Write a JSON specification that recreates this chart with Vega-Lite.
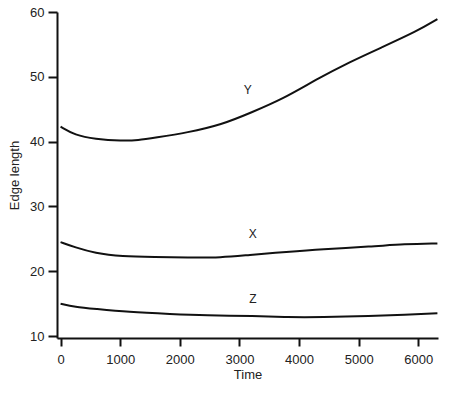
{
  "$schema": "https://vega.github.io/schema/vega-lite/v6.json",
  "width": 381,
  "height": 326,
  "autosize": {"type": "none"},
  "padding": {"left": 57, "top": 12, "right": 19, "bottom": 56},
  "background": "white",
  "config": {
    "view": {"stroke": null},
    "axis": {"grid": false, "domainColor": "#111", "domainWidth": 2, "tickColor": "#111", "tickWidth": 2, "labelFont": "Liberation Sans", "titleFont": "Liberation Sans", "labelFontSize": 13, "titleFontSize": 13, "labelColor": "#222", "titleColor": "#222", "titleFontWeight": "normal"}
  },
  "datasets": {
    "curves": [
      {"series": "Y", "time": 0, "length": 42.3},
      {"series": "Y", "time": 240, "length": 41.0},
      {"series": "Y", "time": 575, "length": 40.4},
      {"series": "Y", "time": 1030, "length": 40.1},
      {"series": "Y", "time": 1300, "length": 40.2},
      {"series": "Y", "time": 1580, "length": 40.6},
      {"series": "Y", "time": 2130, "length": 41.4},
      {"series": "Y", "time": 2700, "length": 42.6},
      {"series": "Y", "time": 3200, "length": 44.5},
      {"series": "Y", "time": 3730, "length": 46.6},
      {"series": "Y", "time": 4290, "length": 49.6},
      {"series": "Y", "time": 4850, "length": 52.3},
      {"series": "Y", "time": 5400, "length": 54.6},
      {"series": "Y", "time": 5970, "length": 57.0},
      {"series": "Y", "time": 6320, "length": 58.9},
      {"series": "X", "time": 0, "length": 24.5},
      {"series": "X", "time": 240, "length": 23.7},
      {"series": "X", "time": 575, "length": 22.8},
      {"series": "X", "time": 1030, "length": 22.3},
      {"series": "X", "time": 1580, "length": 22.2},
      {"series": "X", "time": 2130, "length": 22.1},
      {"series": "X", "time": 2700, "length": 22.1},
      {"series": "X", "time": 3140, "length": 22.5},
      {"series": "X", "time": 3800, "length": 23.0},
      {"series": "X", "time": 4370, "length": 23.4},
      {"series": "X", "time": 5210, "length": 23.8},
      {"series": "X", "time": 5770, "length": 24.2},
      {"series": "X", "time": 6320, "length": 24.3},
      {"series": "Z", "time": 0, "length": 15.0},
      {"series": "Z", "time": 240, "length": 14.5},
      {"series": "Z", "time": 575, "length": 14.2},
      {"series": "Z", "time": 1130, "length": 13.7},
      {"series": "Z", "time": 1860, "length": 13.4},
      {"series": "Z", "time": 2420, "length": 13.2},
      {"series": "Z", "time": 3260, "length": 13.1},
      {"series": "Z", "time": 3800, "length": 12.9},
      {"series": "Z", "time": 4370, "length": 12.9},
      {"series": "Z", "time": 5210, "length": 13.1},
      {"series": "Z", "time": 5770, "length": 13.3},
      {"series": "Z", "time": 6320, "length": 13.5}
    ],
    "labels": [
      {"series": "Y", "time": 3140, "length": 48.0},
      {"series": "X", "time": 3225, "length": 25.7},
      {"series": "Z", "time": 3225, "length": 15.7}
    ]
  },
  "layer": [
    {
      "data": {"name": "curves"},
      "mark": {"type": "line", "interpolate": "basis", "color": "#111", "strokeWidth": 2, "clip": true},
      "encoding": {
        "x": {"field": "time", "type": "quantitative", "scale": {"domain": [-60, 6330], "nice": false, "zero": false},
          "axis": {"title": "Time", "values": [0, 1000, 2000, 3000, 4000, 5000, 6000], "format": "d", "tickSize": 8, "labelPadding": 7, "titlePadding": 2}},
        "y": {"field": "length", "type": "quantitative", "scale": {"domain": [9.7, 60], "nice": false, "zero": false},
          "axis": {"title": "Edge length", "values": [10, 20, 30, 40, 50, 60], "format": "d", "tickSize": 9, "labelPadding": 4, "titlePadding": 8}},
        "detail": {"field": "series"}
      }
    },
    {
      "data": {"name": "labels"},
      "mark": {"type": "text", "font": "Liberation Sans", "fontSize": 12, "color": "#222"},
      "encoding": {
        "x": {"field": "time", "type": "quantitative"},
        "y": {"field": "length", "type": "quantitative"},
        "text": {"field": "series"}
      }
    }
  ]
}
